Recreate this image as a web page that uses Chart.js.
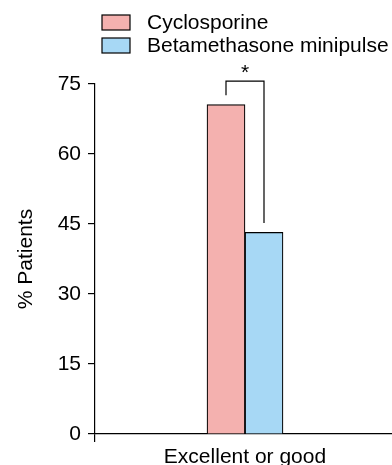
<!DOCTYPE html>
<html>
<head>
<meta charset="utf-8">
<script src="https://cdn.jsdelivr.net/npm/chart.js@4"></script>
<style>
  html, body { margin: 0; padding: 0; background: #fff; overflow: hidden; }
  #wrap { width: 400px; height: 465px; }
</style>
</head>
<body>
<div id="wrap"><canvas id="grafico" width="400" height="465"></canvas></div>
<script>
// datos
const categorias = ['Excellent or good'];
const series = ['Cyclosporine', 'Betamethasone minipulse'];
const ciclosporina = [70.6];
const betametasona = [43.2];
const marcasY = [0, 15, 30, 45, 60, 75];
const significancia = '*';

const colores = ['#F4B1AF', '#A7D8F5'];
const fuente = 'Liberation Sans, Arial, sans-serif';

// leyenda vertical a mano, alineada a la izquierda como en el original
const leyendaPropia = {
    id: 'leyendaPropia',
    afterDraw(chart) {
        const ctx = chart.ctx;
        ctx.save();
        ctx.font = '21px ' + fuente;
        ctx.textBaseline = 'middle';
        chart.data.datasets.forEach((ds, i) => {
            const y = 15 + i * 23;
            ctx.fillStyle = ds.backgroundColor;
            ctx.fillRect(102, y, 28, 15);
            ctx.strokeStyle = '#000';
            ctx.lineWidth = 1.2;
            ctx.strokeRect(102, y, 28, 15);
            ctx.fillStyle = '#000';
            ctx.fillText(ds.label, 147, y + 8);
        });
        ctx.restore();
    }
};

// corchete con el asterisco entre las dos barras
const corchete = {
    id: 'corchete',
    afterDatasetsDraw(chart) {
        const ctx = chart.ctx;
        const y = chart.scales.y;
        const a = chart.getDatasetMeta(0).data[0];
        const b = chart.getDatasetMeta(1).data[0];
        const arriba = y.getPixelForValue(75.6);
        ctx.save();
        ctx.strokeStyle = '#000';
        ctx.lineWidth = 1.2;
        ctx.beginPath();
        ctx.moveTo(a.x, y.getPixelForValue(ciclosporina[0] + 2));
        ctx.lineTo(a.x, arriba);
        ctx.lineTo(b.x, arriba);
        ctx.lineTo(b.x, y.getPixelForValue(betametasona[0] + 2));
        ctx.stroke();
        ctx.fillStyle = '#000';
        ctx.font = '21px ' + fuente;
        ctx.textAlign = 'center';
        ctx.textBaseline = 'middle';
        ctx.fillText(significancia, (a.x + b.x) / 2, arriba - 8);
        ctx.restore();
    }
};

new Chart(document.getElementById('grafico').getContext('2d'), {
    type: 'bar',
    data: {
        labels: categorias,
        datasets: [
            { label: series[0], data: ciclosporina, backgroundColor: colores[0], borderColor: '#000', borderWidth: 1.2, barThickness: 38 },
            { label: series[1], data: betametasona, backgroundColor: colores[1], borderColor: '#000', borderWidth: 1.2, barThickness: 38 }
        ]
    },
    options: {
        responsive: false,
        animation: false,
        layout: { padding: { top: 84, right: 5, left: 0, bottom: 0 } },
        plugins: {
            legend: { display: false },
            tooltip: { enabled: false }
        },
        scales: {
            x: {
                afterFit(s) { s.height = 31; },
                grid: { drawOnChartArea: false, drawTicks: true, tickLength: 8, color: '#000', lineWidth: 1.2 },
                border: { display: true, color: '#000', width: 1.2 },
                ticks: { color: '#000', font: { family: fuente, size: 21 }, padding: 3 }
            },
            y: {
                min: 0,
                max: 75,
                afterFit(s) { s.width = 95; },
                afterBuildTicks(s) { s.ticks = marcasY.map(v => ({ value: v })); },
                grid: { drawOnChartArea: false, drawTicks: true, tickLength: 7, color: '#000', lineWidth: 1.2 },
                border: { display: true, color: '#000', width: 1.2 },
                ticks: { color: '#000', font: { family: fuente, size: 21 }, padding: 7 },
                title: { display: true, text: '% Patients', color: '#000', font: { family: fuente, size: 21 }, padding: { top: 14, bottom: 0 } }
            }
        }
    },
    plugins: [leyendaPropia, corchete]
});
</script>
</body>
</html>
